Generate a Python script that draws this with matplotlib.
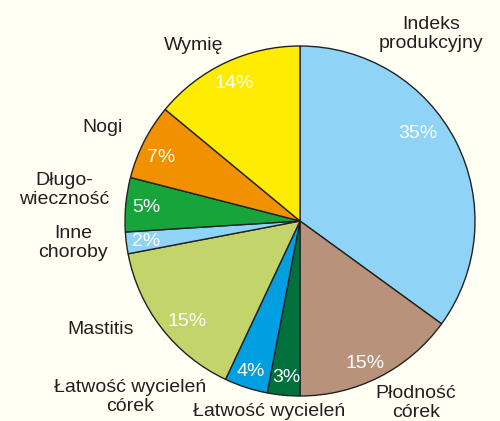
import matplotlib
matplotlib.use("Agg")
import matplotlib.pyplot as plt

categories = ["Indeks\nprodukcyjny", "Płodność\ncórek", "Łatwość wycieleń",
              "Łatwość wycieleń\ncórek", "Mastitis", "Inne\nchoroby",
              "Długo-\nwieczność", "Nogi", "Wymię"]
values = [35, 15, 3, 4, 15, 2, 5, 7, 14]
colors = ["#8fd4f6", "#b8927b", "#00703c", "#009fe1", "#c3d56a",
          "#8fd4f6", "#17a43b", "#f29100", "#ffec00"]

# layout: label positions in pixel space (x, y from top)
name_pos = [(431, 34), (416, 403), (269, 411), (130, 397), (101, 329),
            (73, 243), (64, 190), (103, 128), (194, 45)]
pct_pos = [(418, 134), (365, 363), (286, 378), (251, 371), (187, 322),
           (146, 242), (146, 208), (161, 157), (234, 83)]

W, H = 500, 421
fig = plt.figure(figsize=(5.0, 4.21), dpi=100)
fig.patch.set_facecolor("#fffff3")
ax = fig.add_axes([0, 0, 1, 1])
ax.set_facecolor("#fffff3")

ax.pie(values, colors=colors, startangle=90, counterclock=False,
       center=(300, H - 221), radius=175, frame=True,
       wedgeprops=dict(edgecolor="#222222", linewidth=1.0))
ax.set_xlim(0, W)
ax.set_ylim(0, H)
ax.set_aspect("equal")
ax.axis("off")

font = "Liberation Sans"
for name, (x, y) in zip(categories, name_pos):
    ax.text(x, H - y, name, ha="center", va="center", fontsize=14,
            family=font, color="#231f20", linespacing=1.1)
for v, (x, y) in zip(values, pct_pos):
    ax.text(x, H - y, f"{v}%", ha="center", va="center", fontsize=14,
            family=font, color="white")

fig.savefig("out.png", dpi=100, facecolor=fig.get_facecolor())
